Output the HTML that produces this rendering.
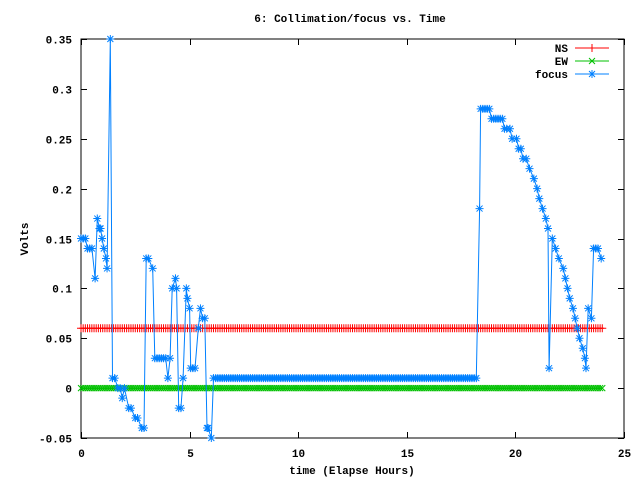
<!DOCTYPE html>
<html><head><meta charset="utf-8">
<style>
html,body{margin:0;padding:0;background:#fff;}
svg{display:block;font-family:"Liberation Mono","DejaVu Sans Mono",monospace;font-size:11px;font-weight:bold;}
</style></head>
<body>
<svg id="chart" width="640" height="480" xmlns="http://www.w3.org/2000/svg">
<rect width="640" height="480" fill="#fff"/>
<text x="350" y="22" text-anchor="middle">6: Collimation/focus vs. Time</text>
<text x="352" y="474" text-anchor="middle">time (Elapse Hours)</text>
<text x="28" y="239" text-anchor="middle" transform="rotate(-90 28 239)">Volts</text>
<g id="axes"></g>
<g id="series"></g>
<g id="legend"></g>
</svg>
<script>
const xTicks = [0,5,10,15,20,25];
const yTicks = [-0.05,0,0.05,0.1,0.15,0.2,0.25,0.3,0.35];
const yTickLabels = ["-0.05","0","0.05","0.1","0.15","0.2","0.25","0.3","0.35"];
const focusTimesA = [0,0.1,0.2,0.3,0.4,0.5,0.65,0.75,0.85,0.9,0.97,1.05,1.15,1.2,1.35,1.45,1.55,1.7,1.8,1.9,2.0,2.2,2.3,2.5,2.6,2.8,2.9,3.0,3.1,3.3,3.4,3.5,3.6,3.7,3.8,3.9,4.0,4.1,4.2,4.35,4.4,4.5,4.6,4.7,4.85,4.9,5.0,5.05,5.15,5.25,5.4,5.5,5.6,5.7,5.8,5.85,6.0,6.1];
const focusValuesA = [0.15,0.15,0.15,0.14,0.14,0.14,0.11,0.17,0.16,0.16,0.15,0.14,0.13,0.12,0.35,0.01,0.01,0,0,-0.01,0,-0.02,-0.02,-0.03,-0.03,-0.04,-0.04,0.13,0.13,0.12,0.03,0.03,0.03,0.03,0.03,0.03,0.01,0.03,0.10,0.11,0.10,-0.02,-0.02,0.01,0.10,0.09,0.08,0.02,0.02,0.02,0.06,0.08,0.07,0.07,-0.04,-0.04,-0.05,0.01];
const flatStart = 6.2, flatEnd = 18.2, flatValue = 0.01;
const focusTimesB = [18.35,18.4,18.5,18.6,18.7,18.8,18.9,19.0,19.1,19.2,19.3,19.4,19.5,19.6,19.75,19.85,20.05,20.15,20.25,20.35,20.5,20.65,20.85,21.0,21.1,21.25,21.4,21.5,21.55,21.7,21.85,22.0,22.2,22.3,22.4,22.5,22.65,22.75,22.85,22.95,23.1,23.2,23.25,23.35,23.5,23.6,23.7,23.8,23.95];
const focusValuesB = [0.18,0.28,0.28,0.28,0.28,0.28,0.27,0.27,0.27,0.27,0.27,0.27,0.26,0.26,0.26,0.25,0.25,0.24,0.24,0.23,0.23,0.22,0.21,0.20,0.19,0.18,0.17,0.16,0.02,0.15,0.14,0.13,0.12,0.11,0.10,0.09,0.08,0.07,0.06,0.05,0.04,0.03,0.02,0.08,0.07,0.14,0.14,0.14,0.13];
const nsValue = 0.06, ewValue = 0.0, seriesStart = 0, seriesEnd = 24, sampleStep = 0.1;

const X0=81,X1=624,Y0=438,Y1=39;
const xs=v=>X0+(v-0)/(25-0)*(X1-X0);
const ys=v=>Y0-(v+0.05)/(0.4)*(Y0-Y1);
const NS="http://www.w3.org/2000/svg";
function mk(tag,attrs,parent){const e=document.createElementNS(NS,tag);for(const k in attrs)e.setAttribute(k,attrs[k]);parent.appendChild(e);return e;}

// sample grid for constant series
const gridTimes=[];for(let i=0;seriesStart+i*sampleStep<=seriesEnd+1e-9;i++)gridTimes.push(+(seriesStart+i*sampleStep).toFixed(2));
const flatTimes=gridTimes.filter(t=>t>=flatStart&&t<=flatEnd);
const focusTimes=focusTimesA.concat(flatTimes,focusTimesB);
const focusValues=focusValuesA.concat(flatTimes.map(()=>flatValue),focusValuesB);

const axes=document.getElementById('axes');
const frame=mk('rect',{x:X0,y:Y1,width:X1-X0,height:Y0-Y1,fill:'none',stroke:'#000','stroke-width':1},axes);


xTicks.forEach(v=>{
  const x=Math.round(xs(v))+0.5;
  const t=mk('path',{d:`M${x},${Y0}v-6M${x},${Y1}v6`,stroke:'#000'},axes);
  
  
  const l=mk('text',{x:x,y:Y0+19,'text-anchor':'middle'},axes);l.textContent=v;
  
  
});
yTicks.forEach((v,i)=>{
  const y=Math.round(ys(v))+0.5;
  const t=mk('path',{d:`M${X0},${y}h6M${X1},${y}h-6`,stroke:'#000'},axes);
  
  
  const l=mk('text',{x:72,y:y+4,'text-anchor':'end'},axes);l.textContent=yTickLabels[i];
  
  
});

function marker(type,x,y,color,parent){
  let d;
  if(type==='plus')d=`M${x-4},${y}h8M${x},${y-4}v8`;
  else if(type==='cross')d=`M${x-3},${y-3}l6,6M${x-3},${y+3}l6,-6`;
  else d=`M${x-4},${y}h8M${x},${y-4}v8M${x-3},${y-3}l6,6M${x-3},${y+3}l6,-6`;
  return mk('path',{d:d,stroke:color,'stroke-width':1,fill:'none'},parent);
}
const ser=document.getElementById('series');
function drawSeries(name,times,vals,color,type){
  const g=mk('g',{},ser);
  
  
  const pts=times.map((t,i)=>xs(t).toFixed(1)+','+ys(vals[i]).toFixed(1)).join(' ');
  const pl=mk('polyline',{points:pts,fill:'none',stroke:color,'stroke-width':1},g);
  
  
  times.forEach((t,i)=>{
    const m=marker(type,xs(t),ys(vals[i]),color,g);
    
    
  });
}
drawSeries('ns',gridTimes,gridTimes.map(()=>nsValue),'#ff0000','plus');
drawSeries('ew',gridTimes,gridTimes.map(()=>ewValue),'#00c000','cross');
drawSeries('focus',focusTimes,focusValues,'#0080ff','star');

const leg=document.getElementById('legend');
[['NS','#ff0000','plus',48],['EW','#00c000','cross',61],['focus','#0080ff','star',74]].forEach(r=>{
  const g=mk('g',{},leg);
  
  
  const t=mk('text',{x:568,y:r[3]+4,'text-anchor':'end'},g);t.textContent=r[0];
  mk('path',{d:`M575,${r[3]}h34`,stroke:r[1]},g);
  marker(r[2],592,r[3],r[1],g);
});
</script>
</body></html>
